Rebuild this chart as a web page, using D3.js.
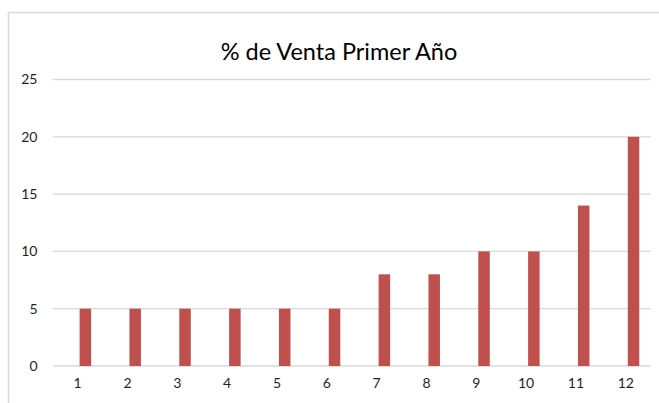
<!DOCTYPE html>
<html>
<head>
<meta charset="utf-8">
<script src="https://cdn.jsdelivr.net/npm/d3@7"></script>
<style>
  html, body { margin: 0; padding: 0; background: #fff; }
  svg { display: block; }
  text { font-family: Lato, "Open Sans", sans-serif; }
</style>
</head>
<body>
<div id="chart"></div>
<script>
// Ventas del primer año, por mes
const meses = ["1", "2", "3", "4", "5", "6", "7", "8", "9", "10", "11", "12"];
const ventaPct = [5, 5, 5, 5, 5, 5, 8, 8, 10, 10, 14, 20];
const yTicks = [0, 5, 10, 15, 20, 25];
const titulo = "% de Venta Primer Año";

const W = 659, H = 403;
const plot = { left: 52.7, right: 650.7, top: 79.5, bottom: 366 };

const svg = d3.select("#chart").append("svg")
  .attr("width", W).attr("height", H);

// marco del área del gráfico
svg.append("rect")
  .attr("x", 8.5).attr("y", 12.5)
  .attr("width", W + 20).attr("height", H + 20)
  .attr("fill", "#fff")
  .attr("stroke", "#d9d9d9").attr("stroke-width", 1.5);

const x = d3.scaleBand().domain(meses).range([plot.left, plot.right]);
const y = d3.scaleLinear().domain([0, 25]).range([plot.bottom, plot.top]);

// líneas de división horizontales
svg.append("g").selectAll("line").data(yTicks).join("line")
  .attr("x1", plot.left).attr("x2", plot.right)
  .attr("y1", d => y(d)).attr("y2", d => y(d))
  .attr("stroke", "#d9d9d9").attr("stroke-width", 1.3);

// etiquetas del eje Y
const yAxis = d3.axisLeft(y).tickValues(yTicks).tickSize(0).tickPadding(0);
svg.append("g")
  .attr("transform", `translate(${37.5},0)`)
  .call(yAxis)
  .call(g => g.select(".domain").remove())
  .selectAll("text")
  .attr("font-size", 14).attr("fill", "#1f1f1f")
  .attr("font-family", "Lato, 'Open Sans', sans-serif");

// etiquetas del eje X
const xAxis = d3.axisBottom(x).tickSize(0).tickPadding(0);
svg.append("g")
  .attr("transform", `translate(0,${378.5})`)
  .call(xAxis)
  .call(g => g.select(".domain").remove())
  .selectAll("text")
  .attr("font-size", 14).attr("fill", "#1f1f1f")
  .attr("font-family", "Lato, 'Open Sans', sans-serif");

// barras (segunda posición dentro de cada grupo)
const barW = 11.5;
svg.append("g").selectAll("rect").data(meses).join("rect")
  .attr("x", (d) => x(d) + x.bandwidth() / 2 + 2)
  .attr("width", barW)
  .attr("y", (d, i) => y(ventaPct[i]))
  .attr("height", (d, i) => y(0) - y(ventaPct[i]))
  .attr("fill", "#c0504d");

// título
svg.append("text")
  .attr("x", 339).attr("y", 59.5)
  .attr("text-anchor", "middle")
  .attr("font-size", 23.5)
  .attr("fill", "#000")
  .text(titulo);
</script>
</body>
</html>
